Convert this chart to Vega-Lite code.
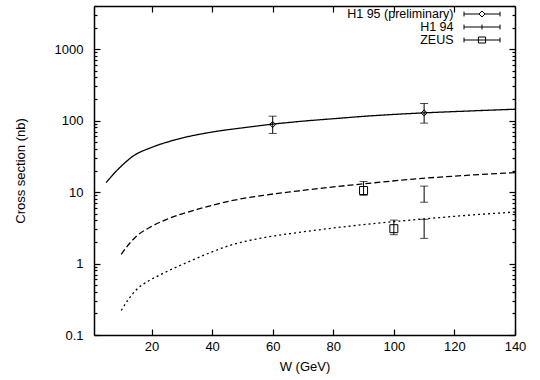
{
  "$schema": "https://vega.github.io/schema/vega-lite/v6.json",
  "width": 421,
  "height": 329,
  "autosize": {"type": "none"},
  "padding": {"left": 94, "top": 6, "right": 25, "bottom": 45},
  "background": "white",
  "config": {
    "view": {"stroke": null},
    "font": "Liberation Sans",
    "axis": {
      "domainColor": "black",
      "domainWidth": 1.5,
      "ticks": true,
      "tickColor": "black",
      "tickOpacity": 1,
      "tickWidth": 1.2,
      "grid": false,
      "zindex": 1,
      "labelColor": "black",
      "labelFont": "Liberation Sans",
      "labelFontSize": 13,
      "titleFont": "Liberation Sans",
      "titleFontSize": 13,
      "titleFontWeight": "normal",
      "titleColor": "black",
      "labelFlush": false,
      "labelOverlap": false
    }
  },
  "datasets": {
    "curves": [
      {"W": 5, "sigma": 13.5, "model": "curve 1"},
      {"W": 7, "sigma": 17, "model": "curve 1"},
      {"W": 10, "sigma": 23, "model": "curve 1"},
      {"W": 14, "sigma": 32, "model": "curve 1"},
      {"W": 20, "sigma": 42, "model": "curve 1"},
      {"W": 28, "sigma": 54, "model": "curve 1"},
      {"W": 40, "sigma": 69, "model": "curve 1"},
      {"W": 50, "sigma": 79, "model": "curve 1"},
      {"W": 60, "sigma": 89, "model": "curve 1"},
      {"W": 70, "sigma": 98, "model": "curve 1"},
      {"W": 80, "sigma": 106, "model": "curve 1"},
      {"W": 92, "sigma": 116, "model": "curve 1"},
      {"W": 110, "sigma": 128, "model": "curve 1"},
      {"W": 125, "sigma": 136, "model": "curve 1"},
      {"W": 140, "sigma": 144, "model": "curve 1"},
      {"W": 10, "sigma": 1.34, "model": "curve 2"},
      {"W": 12, "sigma": 1.75, "model": "curve 2"},
      {"W": 15, "sigma": 2.4, "model": "curve 2"},
      {"W": 20, "sigma": 3.3, "model": "curve 2"},
      {"W": 25, "sigma": 4.15, "model": "curve 2"},
      {"W": 35, "sigma": 5.7, "model": "curve 2"},
      {"W": 46, "sigma": 7.5, "model": "curve 2"},
      {"W": 57, "sigma": 9.0, "model": "curve 2"},
      {"W": 68, "sigma": 10.3, "model": "curve 2"},
      {"W": 89, "sigma": 12.9, "model": "curve 2"},
      {"W": 111, "sigma": 15.7, "model": "curve 2"},
      {"W": 125, "sigma": 17.2, "model": "curve 2"},
      {"W": 140, "sigma": 18.7, "model": "curve 2"},
      {"W": 10, "sigma": 0.22, "model": "curve 3"},
      {"W": 12, "sigma": 0.3, "model": "curve 3"},
      {"W": 15, "sigma": 0.43, "model": "curve 3"},
      {"W": 19, "sigma": 0.57, "model": "curve 3"},
      {"W": 23, "sigma": 0.7, "model": "curve 3"},
      {"W": 34, "sigma": 1.14, "model": "curve 3"},
      {"W": 46, "sigma": 1.8, "model": "curve 3"},
      {"W": 57, "sigma": 2.3, "model": "curve 3"},
      {"W": 68, "sigma": 2.7, "model": "curve 3"},
      {"W": 90, "sigma": 3.5, "model": "curve 3"},
      {"W": 111, "sigma": 4.24, "model": "curve 3"},
      {"W": 125, "sigma": 4.75, "model": "curve 3"},
      {"W": 140, "sigma": 5.25, "model": "curve 3"}
    ],
    "points": [
      {"exp": "H1 95 (preliminary)", "W": 60, "sigma": 88, "lo": 66, "hi": 115},
      {"exp": "H1 95 (preliminary)", "W": 110, "sigma": 128, "lo": 92, "hi": 173},
      {"exp": "H1 94", "W": 110, "sigma": 9.3, "lo": 7.2, "hi": 12.1},
      {"exp": "H1 94", "W": 110, "sigma": 3.0, "lo": 2.25, "hi": 4.15},
      {"exp": "ZEUS", "W": 90, "sigma": 10.5, "lo": 9.0, "hi": 14.0},
      {"exp": "ZEUS", "W": 100, "sigma": 3.07, "lo": 2.53, "hi": 4.05}
    ]
  },
  "layer": [
    {
      "data": {"name": "curves"},
      "mark": {"type": "line", "color": "black", "strokeWidth": 1.3, "interpolate": "monotone"},
      "encoding": {
        "x": {
          "field": "W", "type": "quantitative",
          "scale": {"domain": [1, 140], "nice": false, "zero": false},
          "axis": {"orient": "bottom", "values": [20, 40, 60, 80, 100, 120, 140], "tickSize": -6, "labelPadding": 11, "title": "W (GeV)", "titlePadding": 7}
        },
        "y": {
          "field": "sigma", "type": "quantitative",
          "scale": {"type": "log", "domain": [0.1, 4000], "nice": false},
          "axis": {
            "orient": "left",
            "values": [0.1, 0.2, 0.3, 0.4, 0.5, 0.6, 0.7, 0.8, 0.9, 1, 2, 3, 4, 5, 6, 7, 8, 9, 10, 20, 30, 40, 50, 60, 70, 80, 90, 100, 200, 300, 400, 500, 600, 700, 800, 900, 1000, 2000, 3000, 4000],
            "tickSize": {"condition": {"test": "abs(log(datum.value)/LN10 - round(log(datum.value)/LN10)) < 0.000001", "value": -6}, "value": -3},
            "labelExpr": "abs(log(datum.value)/LN10 - round(log(datum.value)/LN10)) < 0.000001 ? format(datum.value, '~g') : ''",
            "labelPadding": 17,
            "title": "Cross section (nb)",
            "titlePadding": 27
          }
        },
        "strokeDash": {
          "field": "model", "type": "nominal",
          "scale": {"domain": ["curve 1", "curve 2", "curve 3"], "range": [[1, 0], [6, 3], [2, 3]]},
          "legend": null
        }
      }
    },
    {
      "data": {"name": "points"},
      "mark": {"type": "rule", "color": "black", "strokeWidth": 1},
      "encoding": {
        "x": {
          "field": "W", "type": "quantitative",
          "scale": {"domain": [1, 140], "nice": false, "zero": false},
          "axis": {"orient": "top", "values": [20, 40, 60, 80, 100, 120], "tickSize": -6, "labels": false, "title": null}
        },
        "y": {
          "field": "lo", "type": "quantitative",
          "scale": {"type": "log", "domain": [0.1, 4000], "nice": false},
          "axis": {
            "orient": "right",
            "values": [0.1, 0.2, 0.3, 0.4, 0.5, 0.6, 0.7, 0.8, 0.9, 1, 2, 3, 4, 5, 6, 7, 8, 9, 10, 20, 30, 40, 50, 60, 70, 80, 90, 100, 200, 300, 400, 500, 600, 700, 800, 900, 1000, 2000, 3000, 4000],
            "tickSize": {"condition": {"test": "abs(log(datum.value)/LN10 - round(log(datum.value)/LN10)) < 0.000001", "value": -6}, "value": -3},
            "labels": false,
            "title": null
          }
        },
        "y2": {"field": "hi"}
      }
    },
    {
      "data": {"name": "points"},
      "mark": {"type": "tick", "orient": "horizontal", "size": 8, "thickness": 1, "color": "black"},
      "encoding": {
        "x": {"field": "W", "type": "quantitative", "axis": null},
        "y": {"field": "lo", "type": "quantitative", "axis": null}
      }
    },
    {
      "data": {"name": "points"},
      "mark": {"type": "tick", "orient": "horizontal", "size": 8, "thickness": 1, "color": "black"},
      "encoding": {
        "x": {"field": "W", "type": "quantitative", "axis": null},
        "y": {"field": "hi", "type": "quantitative", "axis": null}
      }
    },
    {
      "data": {"name": "points"},
      "transform": [{"filter": "datum.exp == 'H1 95 (preliminary)'"}],
      "mark": {"type": "point", "shape": "diamond", "size": 36, "filled": false, "color": "black", "strokeWidth": 1, "opacity": 1},
      "encoding": {
        "x": {"field": "W", "type": "quantitative", "axis": null},
        "y": {"field": "sigma", "type": "quantitative", "axis": null}
      }
    },
    {
      "data": {"name": "points"},
      "transform": [{"filter": "datum.exp == 'ZEUS'"}],
      "mark": {"type": "point", "shape": "square", "size": 64, "filled": false, "color": "black", "strokeWidth": 1, "opacity": 1},
      "encoding": {
        "x": {"field": "W", "type": "quantitative", "axis": null},
        "y": {"field": "sigma", "type": "quantitative", "axis": null}
      }
    },
    {
      "data": {"name": "points"},
      "transform": [{"filter": "false"}],
      "mark": {"type": "point", "filled": false, "color": "black", "strokeWidth": 1, "opacity": 1, "size": 144},
      "encoding": {
        "x": {"field": "W", "type": "quantitative", "axis": null},
        "y": {"field": "sigma", "type": "quantitative", "axis": null},
        "shape": {
          "field": "exp", "type": "nominal",
          "scale": {
            "domain": ["H1 95 (preliminary)", "H1 94", "ZEUS"],
            "range": [
              "M-3,-0.4V0.4M-3,0H-0.5M0.5,0H3M3,-0.4V0.4M-0.5,0L0,-0.5L0.5,0L0,0.5Z",
              "M-3,-0.4V0.4M-3,0H3M3,-0.4V0.4M0,-0.4V0.4",
              "M-3,-0.4V0.4M-3,0H3M3,-0.4V0.4M-0.6,-0.5H0.6V0.5H-0.6Z"
            ]
          },
          "legend": {
            "orient": "none",
            "legendX": 381.5,
            "legendY": 1.5,
            "title": null,
            "padding": 0,
            "symbolSize": 144,
            "rowPadding": 0,
            "labelAlign": "right",
            "labelOffset": -35,
            "labelFont": "Liberation Sans",
            "labelFontSize": 12.5,
            "labelColor": "black",
            "labelLimit": 300,
            "symbolStrokeColor": "black",
            "symbolStrokeWidth": 1,
            "symbolFillColor": "transparent",
            "symbolOpacity": 1
          }
        }
      }
    }
  ],
  "resolve": {"axis": {"x": "independent", "y": "independent"}}
}
